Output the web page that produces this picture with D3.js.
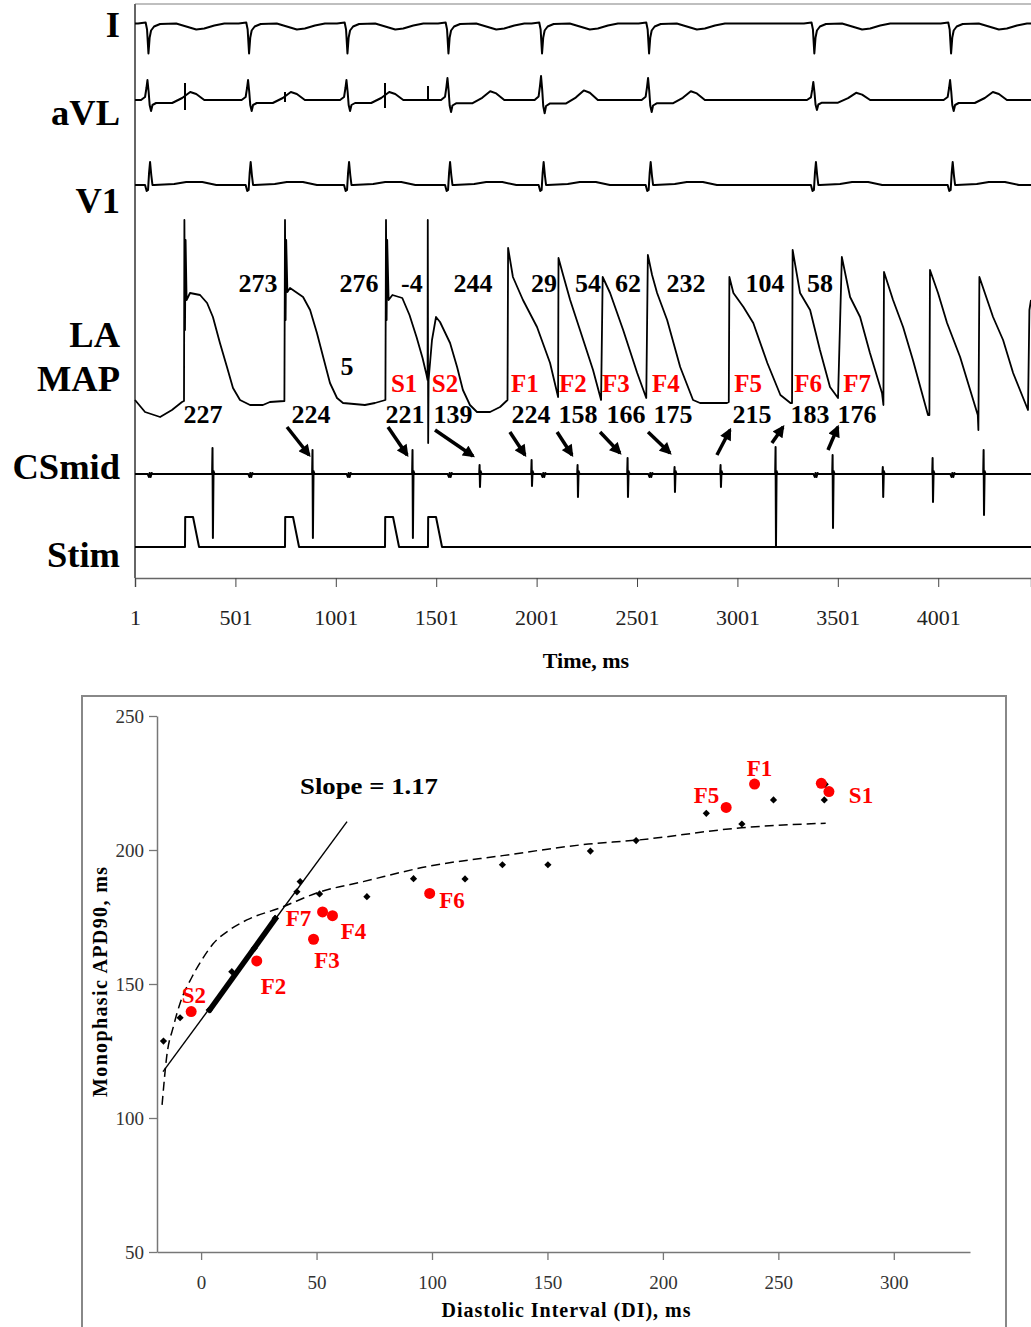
<!DOCTYPE html>
<html>
<head>
<meta charset="utf-8">
<script src="https://cdn.jsdelivr.net/npm/d3@7"></script>
<style>
  body { margin: 0; background: #fff; }
  text { font-family: "Liberation Serif", "Times New Roman", serif; }
</style>
</head>
<body>
<svg id="fig" width="1031" height="1327"></svg>
<script>
// ---------- top panel: recordings (time in ms, amplitude in trace units) ----------
const beatTimes = [76, 577, 1067, 1570, 2036, 2569, 3392, 4073];
const leadIShape = [[-60,0],[-22,0.1],[-15,-0.6],[-8,-3.0],[-2,-1.4],[5,-0.7],[20,-0.3],[50,-0.05],[130,0],[180,-0.3],[230,-0.6],[270,-0.5],[320,-0.2],[370,0]];
const aVLShape = [[-45,0],[-25,0.3],[-18,1.2],[-13,2.0],[-7,0.8],[-2,-0.5],[5,-1.1],[12,-0.5],[30,-0.3],[110,-0.3],[160,0.2],[200,0.8],[230,0.6],[270,0],[420,0]];
const aVLAmp = [1, 1, 1, 1.1, 1.2, 1.1, 0.9, 1.0];
const v1Shape = [[-50,0],[-25,0],[-17,-0.6],[-10,-0.5],[-5,1.2],[0,2.3],[6,1.0],[12,0],[20,0],[120,0.1],[180,0.3],[260,0.3],[330,0]];
const stimTimes = [250, 748, 1246, 1460];
const aVLArtifact = [[1.7,-1.0],[0.8,-0.2],[1.7,-0.8],[1.4,0]];
const stimPulse = [[0,0],[1,3],[40,3],[70,0]];
const csFarField = [[-12,0],[-6,-0.3],[-2,0.1],[3,-0.3],[8,0.1],[14,0]];
// CSmid spikes: time, up, down
const csSpikes = [[389,2.6,-6.4],[887,2.4,-6.4],[1385,2.4,-6.4],[1719,0.9,-1.3],[1978,1.4,-1.2],[2207,0.9,-2.3],[2456,1.6,-2.3],[2690,0.7,-1.8],[2919,0.9,-1.3],[3193,2.7,-7.3],[3477,1.9,-5.4],[3727,0.7,-2.3],[3975,1.6,-2.8],[4229,2.4,-4.1]];
const mapTrace = [
[1,0.5],[51,-0.7],[126,-1.2],[185,-0.5],[235,0.3],[245,0.4],[247,18.5],[250,7.5],[253,16.5],[258,10.5],[275,11.2],[325,11.0],[360,10.2],[389,8.8],[424,6.2],[459,3.8],[489,1.7],[524,0.5],[574,0],[638,0],[673,0.3],[745,0.4],
[748,18.5],[751,8.5],[754,16.5],[760,11.3],[773,11.7],[838,10.8],[873,9.5],[907,7.2],[942,4.5],[972,2.2],[1007,0.7],[1037,0.2],[1146,0],[1196,0.2],[1248,0.5],
[1251,18.5],[1254,8.5],[1257,16.5],[1264,10.5],[1283,11.0],[1332,10.7],[1368,9.0],[1403,6.8],[1433,4.7],[1453,3.0],[1458,2.5],
[1459,18.5],[1461,-3.8],[1463,2.5],[1480,6.5],[1500,8.8],[1520,8.3],[1570,6.2],[1605,3.8],[1634,1.5],[1669,0],[1704,-0.7],[1769,-0.7],[1819,-0.2],[1856,0.5],
[1859,15.7],[1883,12.8],[1933,10.5],[2003,7.8],[2068,4.2],[2108,0.8],
[2110,14.7],[2133,13.0],[2168,10.5],[2217,7.5],[2282,3.5],[2322,0.5],
[2330,12.8],[2367,11.2],[2432,7.5],[2502,3.2],[2547,0.7],
[2555,15.0],[2576,13.0],[2601,11.2],[2651,8.5],[2716,3.8],[2780,0.5],[2815,0.2],[2949,0.2],[2958,0.3],
[2961,12.8],[2981,11.2],[3031,9.8],[3080,8.2],[3150,4.2],[3215,1.0],[3265,0.2],[3273,0.2],
[3276,15.5],[3313,11.2],[3363,9.5],[3412,5.5],[3462,1.8],[3502,0.7],
[3521,14.8],[3562,10.8],[3612,8.8],[3661,5.2],[3721,1.2],[3728,0],
[3731,13.3],[3776,10.5],[3826,7.8],[3875,4.5],[3950,-1.0],[3957,-1.0],
[3960,13.5],[4000,11.2],[4045,8.2],[4110,4.8],[4198,-1.0],[4201,-2.5],
[4206,12.8],[4274,8.8],[4324,6.5],[4374,3.2],[4448,-0.5],[4455,9.5],[4463,10.5]
];
// arrows on CSmid: [t from, v from, t to, v to]
const arrows = [[758,4.7,868,1.9],[1261,4.7,1356,1.9],[1495,4.4,1684,1.8],[1868,4.2,1943,1.9],[2103,4.2,2177,1.9],[2317,4.2,2416,2.1],[2556,4.2,2665,2.1],[2899,1.9,2964,4.4],[3173,3.1,3228,4.7],[3452,2.4,3501,4.7]];
const diLabels = ["273","276","-4","244","29","54","62","232","104","58"];
const diTimes = [614, 1116, 1380, 1684, 2038, 2257, 2456, 2745, 3138, 3412];
const apdLabels = ["227","224","221","139","224","158","166","175","215","183","176"];
const apdTimes = [340, 878, 1346, 1585, 1973, 2207, 2446, 2680, 3073, 3362, 3597];
const beatLabels = ["S1","S2","F1","F2","F3","F4","F5","F6","F7"];
const beatLabelTimes = [1341, 1545, 1943, 2182, 2396, 2645, 3054, 3353, 3597];
const timeTicks = [1, 501, 1001, 1501, 2001, 2501, 3001, 3501, 4001];
const leadNames = ["I","aVL","V1","LA","MAP","CSmid","Stim"];

// ---------- bottom panel: restitution ----------
const restDI  = [-16.3,-9.1,3.5,13.3,23.0,32.1,41.5,42.9,51.3,71.8,92.0,114.3,130.5,150.2,168.6,188.4,218.8,234.2,247.9,269.9,270.3];
const restAPD = [128.7,137.4,140.3,154.6,163.3,174.5,184.4,188.2,183.6,182.6,189.3,189.2,194.5,194.5,199.6,203.5,213.7,209.7,218.7,218.7,224.5];
const beatDI  = [-4.3, 24.1, 48.7, 52.6, 56.9, 99.0, 227.4, 239.7, 268.6, 271.9];
const beatAPD = [139.7, 158.6, 166.7, 176.9, 175.5, 183.8, 215.9, 224.6, 224.9, 221.8];
const pointNames = ["S2","F2","F3","F7","F4","F6","F5","F1","S1"];
const nameDI  = [-3.1, 31.4, 54.5, 42.2, 66.0, 108.7, 218.9, 241.8, 285.8];
const nameAPD = [145.9, 149.4, 159.0, 174.6, 169.8, 181.3, 220.7, 230.8, 220.5];
const fitDI  = [-16.9,-16.6,-14.9,-12.0,-9.1,-3.9,0.3,5.2,12.0,19.8,34.2,51.6,70.2,97.8,130.5,167.7,187.7,234.1,270.5];
const fitAPD = [104.9,107.9,122.9,134.1,142.8,152.7,159.0,165.0,170.0,173.9,178.4,184.4,188.2,193.8,197.9,202.2,203.6,208.3,210.0];
const slopeLine  = [[-16.5,117.3],[63.2,210.6]];
const slopeThick = [[3.2,139.7],[32.8,175.1]];
const diTicks  = [0, 50, 100, 150, 200, 250, 300];
const apdTicks = [50, 100, 150, 200, 250];

const svg = d3.select("#fig");
const red = "#ff0000";

// ===== top panel =====
const x = d3.scaleLinear().domain([1, 4463]).range([135, 1031]);
function traceY(base) { return d3.scaleLinear().domain([0, 1]).range([base, base - 10]); }
const yI = traceY(23.5), yAVL = traceY(100), yV1 = traceY(185), yMAP = traceY(405), yCS = traceY(474), yStim = traceY(547);

function beatTrace(shape, amps) {
  const pts = [[1, 0]];
  beatTimes.forEach(function(t, i) {
    const a = amps ? amps[i] : 1;
    shape.forEach(function(p) { pts.push([t + p[0], p[1] * a]); });
  });
  pts.push([4463, 0]);
  return pts.filter(function(p) { return p[0] >= 1 && p[0] <= 4463; }).sort(function(a, b) { return a[0] - b[0]; });
}

const csPts = [[1, 0]];
beatTimes.forEach(function(t) { csFarField.forEach(function(p) { csPts.push([t + p[0], p[1]]); }); });
csSpikes.forEach(function(s) { csPts.push([s[0]-4,0],[s[0]-2,s[1]],[s[0],s[2]],[s[0]+3,0.3],[s[0]+8,0]); });
csPts.push([4463, 0]);
csPts.sort(function(a, b) { return a[0] - b[0]; });

const stimPts = [[1, 0]];
stimTimes.forEach(function(t) { stimPulse.forEach(function(p) { stimPts.push([t + p[0], p[1]]); }); });
stimPts.push([4463, 0]);

// frame
svg.append("line").attr("x1", 135).attr("x2", 1031).attr("y1", 4).attr("y2", 4)
  .attr("stroke", "#aaa").attr("stroke-width", 1.5);
svg.append("line").attr("x1", 135).attr("x2", 135).attr("y1", 4).attr("y2", 578)
  .attr("stroke", "#666").attr("stroke-width", 2);

const xAxis = svg.append("g").attr("transform", "translate(0,578)")
  .call(d3.axisBottom(x).tickValues(timeTicks).tickSize(9).tickPadding(22).tickFormat(d3.format("d")));
xAxis.select(".domain").attr("stroke", "#666").attr("stroke-width", 1.5);
xAxis.selectAll(".tick line").attr("stroke", "#444");
xAxis.selectAll("text").attr("font-size", 22).attr("fill", "#222")
  .style("font-family", "'Liberation Serif', serif");
svg.append("text").attr("x", 586).attr("y", 668).attr("text-anchor", "middle")
  .attr("font-size", 22).attr("font-weight", "bold").text("Time, ms");

// lead names
const nameBase = [37, 125, 213, 347, 391, 479, 567];
svg.selectAll(".lead").data(leadNames).enter().append("text")
  .attr("x", 120).attr("y", function(d, i) { return nameBase[i]; })
  .attr("text-anchor", "end").attr("font-size", 36.5).attr("font-weight", "bold").text(function(d) { return d; });

// MAP annotations
const ann = svg.append("g").attr("font-weight", "bold").attr("text-anchor", "middle");
ann.selectAll(".di").data(diLabels).enter().append("text")
  .attr("x", function(d, i) { return x(diTimes[i]); }).attr("y", yMAP(12.2)).attr("dy", "0.35em")
  .attr("font-size", 26).text(function(d) { return d; });
ann.append("text").attr("x", x(1057)).attr("y", yMAP(3.9)).attr("dy", "0.35em").attr("font-size", 26).text("5");
ann.selectAll(".bl").data(beatLabels).enter().append("text")
  .attr("x", function(d, i) { return x(beatLabelTimes[i]); }).attr("y", yMAP(2.2)).attr("dy", "0.35em")
  .attr("font-size", 25).attr("fill", red).text(function(d) { return d; });
ann.selectAll(".apd").data(apdLabels).enter().append("text")
  .attr("x", function(d, i) { return x(apdTimes[i]); }).attr("y", yMAP(-0.9)).attr("dy", "0.35em")
  .attr("font-size", 26).text(function(d) { return d; });

// traces
function drawTrace(pts, ys, w) {
  svg.append("path").datum(pts)
    .attr("d", d3.line().x(function(d) { return x(d[0]); }).y(function(d) { return ys(d[1]); }))
    .attr("fill", "none").attr("stroke", "#000").attr("stroke-width", w || 2).attr("stroke-linejoin", "round");
}
drawTrace(beatTrace(leadIShape), yI);
drawTrace(beatTrace(aVLShape, aVLAmp), yAVL);
drawTrace(beatTrace(v1Shape), yV1);
drawTrace(mapTrace, yMAP, 1.8);
drawTrace(csPts, yCS);
drawTrace(stimPts, yStim);

svg.selectAll(".art").data(stimTimes).enter().append("line")
  .attr("x1", function(d) { return x(d); }).attr("x2", function(d) { return x(d); })
  .attr("y1", function(d, i) { return yAVL(aVLArtifact[i][0]); })
  .attr("y2", function(d, i) { return yAVL(aVLArtifact[i][1]); })
  .attr("stroke", "#000").attr("stroke-width", 2);

// arrows
svg.append("defs").append("marker").attr("id", "head")
  .attr("viewBox", "0 0 10 10").attr("refX", 8).attr("refY", 5)
  .attr("markerUnits", "userSpaceOnUse").attr("markerWidth", 13).attr("markerHeight", 12)
  .attr("orient", "auto")
  .append("path").attr("d", "M0,0 L10,5 L0,10 Z").attr("fill", "#000");
svg.selectAll(".arr").data(arrows).enter().append("line")
  .attr("x1", function(d) { return x(d[0]); }).attr("y1", function(d) { return yCS(d[1]); })
  .attr("x2", function(d) { return x(d[2]); }).attr("y2", function(d) { return yCS(d[3]); })
  .attr("stroke", "#000").attr("stroke-width", 3.5).attr("marker-end", "url(#head)");

// ===== bottom panel =====
svg.append("rect").attr("x", 82).attr("y", 696).attr("width", 924).attr("height", 700)
  .attr("fill", "none").attr("stroke", "#888").attr("stroke-width", 2);

const sx = d3.scaleLinear().domain([-19.1, 333]).range([157, 970]);
const sy = d3.scaleLinear().domain([50, 250]).range([1252, 716]);

const gy = svg.append("g").attr("transform", "translate(157,0)")
  .call(d3.axisLeft(sy).tickValues(apdTicks).tickSize(8).tickPadding(5).tickSizeOuter(0));
const gx = svg.append("g").attr("transform", "translate(0,1252)")
  .call(d3.axisBottom(sx).tickValues(diTicks).tickSize(8).tickPadding(16).tickSizeOuter(0));
[gx, gy].forEach(function(g) {
  g.select(".domain").attr("stroke", "#777").attr("stroke-width", 1.5);
  g.selectAll(".tick line").attr("stroke", "#777").attr("stroke-width", 1.3);
  g.selectAll("text").attr("font-size", 19).attr("fill", "#333")
    .style("font-family", "'Liberation Serif', serif");
});

svg.append("text").attr("transform", "translate(107,982) rotate(-90)").attr("text-anchor", "middle")
  .attr("font-size", 20).attr("font-weight", "bold").attr("textLength", 230).attr("lengthAdjust", "spacing")
  .text("Monophasic APD90, ms");
svg.append("text").attr("x", 566).attr("y", 1317).attr("text-anchor", "middle")
  .attr("font-size", 20).attr("font-weight", "bold").attr("textLength", 249).attr("lengthAdjust", "spacing")
  .text("Diastolic Interval (DI), ms");

const line = d3.line().x(function(d) { return sx(d[0]); }).y(function(d) { return sy(d[1]); });
svg.append("path").datum(fitDI.map(function(d, i) { return [d, fitAPD[i]]; }))
  .attr("d", line.curve(d3.curveMonotoneX)).attr("fill", "none").attr("stroke", "#000")
  .attr("stroke-width", 1.5).attr("stroke-dasharray", "9,5");
line.curve(d3.curveLinear);
svg.append("path").datum(slopeLine).attr("d", line).attr("stroke", "#000").attr("stroke-width", 1.4);
svg.append("path").datum(slopeThick).attr("d", line).attr("stroke", "#000").attr("stroke-width", 5.5);

svg.append("text").attr("x", 300).attr("y", 794).attr("font-size", 24).attr("font-weight", "bold")
  .attr("textLength", 138).attr("lengthAdjust", "spacingAndGlyphs").text("Slope = 1.17");

svg.selectAll(".rest").data(restDI).enter().append("path")
  .attr("transform", function(d, i) { return "translate(" + sx(d) + "," + sy(restAPD[i]) + ") rotate(45)"; })
  .attr("d", d3.symbol().type(d3.symbolSquare).size(26)).attr("fill", "#000");
svg.selectAll(".beat").data(beatDI).enter().append("circle")
  .attr("cx", function(d) { return sx(d); }).attr("cy", function(d, i) { return sy(beatAPD[i]); })
  .attr("r", 5.5).attr("fill", red);
svg.selectAll(".pname").data(pointNames).enter().append("text")
  .attr("x", function(d, i) { return sx(nameDI[i]); }).attr("y", function(d, i) { return sy(nameAPD[i]); })
  .attr("dy", "0.35em").attr("text-anchor", "middle").attr("font-size", 23).attr("font-weight", "bold")
  .attr("fill", red).text(function(d) { return d; });
</script>
</body>
</html>
